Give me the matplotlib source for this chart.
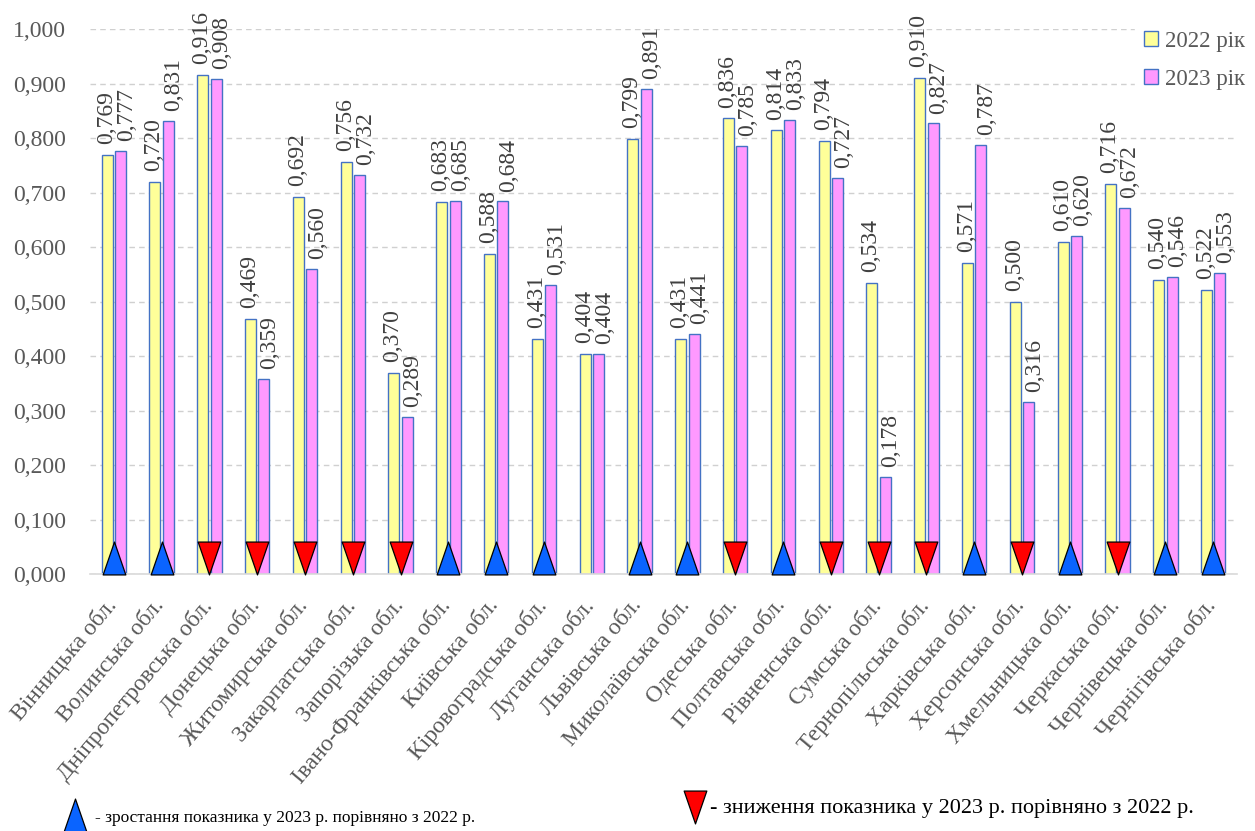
import numpy as np
import matplotlib.pyplot as plt
from matplotlib.path import Path

############################ data ############################
regions = ['Вінницька обл.', 'Волинська обл.', 'Дніпропетровська обл.', 'Донецька обл.',
           'Житомирська обл.', 'Закарпатська обл.', 'Запорізька обл.', 'Івано-Франківська обл.',
           'Київська обл.', 'Кіровоградська обл.', 'Луганська обл.', 'Львівська обл.',
           'Миколаївська обл.', 'Одеська обл.', 'Полтавська обл.', 'Рівненська обл.',
           'Сумська обл.', 'Тернопільська обл.', 'Харківська обл.', 'Херсонська обл.',
           'Хмельницька обл.', 'Черкаська обл.', 'Чернівецька обл.', 'Чернігівська обл.']

values_2022 = [0.769, 0.720, 0.916, 0.469, 0.692, 0.756, 0.370, 0.683, 0.588, 0.431, 0.404, 0.799,
               0.431, 0.836, 0.814, 0.794, 0.534, 0.910, 0.571, 0.500, 0.610, 0.716, 0.540, 0.522]
values_2023 = [0.777, 0.831, 0.908, 0.359, 0.560, 0.732, 0.289, 0.685, 0.684, 0.531, 0.404, 0.891,
               0.441, 0.785, 0.833, 0.727, 0.178, 0.827, 0.787, 0.316, 0.620, 0.672, 0.546, 0.553]

series_labels = ['2022 рік', '2023 рік']

############################ styles ############################
serif = 'Liberation Serif'
yellow = '#FFFF99'
pink = '#FF99FF'
edge = '#4472C4'
txt_gray = '#595959'
up_col = '#0A64FF'
down_col = '#FF0000'

# narrow triangle markers (height / width ~ 1.45)
up_tri = Path([(0, 1.45), (-1, -1.45), (1, -1.45), (0, 1.45)],
              [Path.MOVETO, Path.LINETO, Path.LINETO, Path.CLOSEPOLY])
down_tri = Path([(0, -1.45), (-1, 1.45), (1, 1.45), (0, -1.45)],
                [Path.MOVETO, Path.LINETO, Path.LINETO, Path.CLOSEPOLY])
tri_size = 560

fig = plt.figure(figsize=(12.55, 8.31), dpi=100)
ax = fig.add_axes([0.0717, 0.309, 0.914, 0.656])

x = np.arange(len(regions))
w = 0.23
gap = 0.025

ax.bar(x - w / 2 - gap, values_2022, w, color=yellow, edgecolor=edge, linewidth=1.0,
       label=series_labels[0], zorder=2)
ax.bar(x + w / 2 + gap, values_2023, w, color=pink, edgecolor=edge, linewidth=1.0,
       label=series_labels[1], zorder=2)

# value labels
for i in range(len(regions)):
    ax.text(x[i] - w / 2 - gap - 0.02, values_2022[i] + 0.02, f'{values_2022[i]:.3f}'.replace('.', ','),
            rotation=90, ha='center', va='bottom', fontsize=17, family=serif, color='#404040',
            clip_on=False)
    ax.text(x[i] + w / 2 + gap + 0.12, values_2023[i] + 0.018, f'{values_2023[i]:.3f}'.replace('.', ','),
            rotation=90, ha='center', va='bottom', fontsize=17, family=serif, color='#404040',
            clip_on=False)

# change markers
for i in range(len(regions)):
    if values_2023[i] > values_2022[i]:
        ax.scatter(x[i], 0.030, marker=up_tri, s=tri_size, color=up_col, edgecolor='black',
                   linewidth=0.9, zorder=4, clip_on=False)
    elif values_2023[i] < values_2022[i]:
        ax.scatter(x[i], 0.029, marker=down_tri, s=tri_size, color=down_col, edgecolor='black',
                   linewidth=0.9, zorder=4, clip_on=False)

ax.set_xlim(-0.5, len(regions) - 0.5)
ax.set_ylim(0, 1.0)
ax.set_yticks(np.arange(0, 1.01, 0.1))
ax.set_yticklabels([f'{v:.3f}'.replace('.', ',') for v in np.arange(0, 1.01, 0.1)])
# ticks are invisible, so nudge them left to place the rotated labels like the original
ax.set_xticks(x - 0.2)
ax.set_xticklabels(regions, rotation=50, ha='right', va='top', rotation_mode='anchor')

for lab in ax.get_yticklabels():
    lab.set_fontfamily(serif)
    lab.set_fontsize(17)
    lab.set_color(txt_gray)
for lab in ax.get_xticklabels():
    lab.set_fontfamily(serif)
    lab.set_fontsize(17)
    lab.set_color(txt_gray)

ax.tick_params(axis='both', length=0)
ax.tick_params(axis='y', pad=17)
ax.tick_params(axis='x', pad=15)
ax.yaxis.grid(True, linestyle=(0, (4, 3)), color='#D0D0D0', linewidth=1)
ax.set_axisbelow(True)
for s in ['top', 'right', 'left']:
    ax.spines[s].set_visible(False)
ax.spines['bottom'].set_color('#D9D9D9')
ax.spines['bottom'].set_linewidth(1.2)

leg = ax.legend(loc='upper right', bbox_to_anchor=(1.025, 1.035), frameon=True, framealpha=1,
                edgecolor='white', prop={'family': serif, 'size': 16.5}, handlelength=0.6,
                handleheight=0.6, handletextpad=0.3, labelspacing=0.75, labelcolor=txt_gray)

# bottom legend
lax = fig.add_axes([0, 0, 1, 0.06])
lax.set_xlim(0, 1255)
lax.set_ylim(0, 50)
lax.axis('off')
lax.scatter([75], [16], marker=up_tri, s=tri_size, color=up_col, edgecolor='black', linewidth=0.9,
            clip_on=False)
lax.text(95, 13, '- зростання показника у 2023 р. порівняно з 2022 р.', va='center', ha='left',
         family=serif, fontsize=12.5, color='black')
lax.scatter([695], [24], marker=down_tri, s=tri_size, color=down_col, edgecolor='black', linewidth=0.9,
            clip_on=False)
lax.text(710, 23, '- зниження показника у 2023 р. порівняно з 2022 р.', va='center', ha='left',
         family=serif, fontsize=16, color='black')

fig.savefig('out.png', dpi=100)
